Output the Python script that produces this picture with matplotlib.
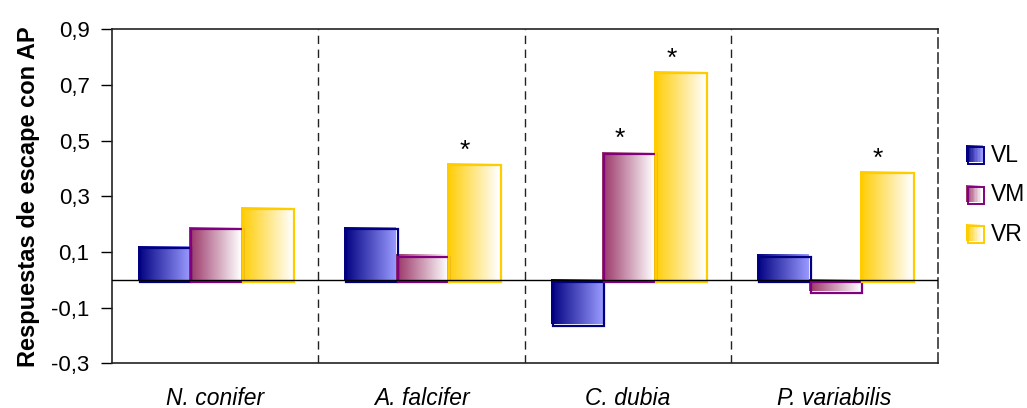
import numpy as np
import matplotlib
matplotlib.use("Agg")
import matplotlib.pyplot as plt
from matplotlib.transforms import ScaledTranslation
from matplotlib.patches import Rectangle
from matplotlib.legend_handler import HandlerBase
from matplotlib.colors import to_rgb

plt.rcParams['font.family'] = ['Liberation Sans', 'DejaVu Sans']

categories = ['N. conifer', 'A. falcifer', 'C. dubia', 'P. variabilis']
series_names = ['VL', 'VM', 'VR']
vl = [0.12, 0.19, -0.16, 0.09]
vm = [0.19, 0.09, 0.46, -0.04]
vr = [0.26, 0.42, 0.75, 0.39]
# significance stars: (series index, category index)
stars = [(2, 1), (1, 2), (2, 2), (2, 3)]
yticks = [-0.3, -0.1, 0.1, 0.3, 0.5, 0.7, 0.9]
ytick_labels = ['-0,3', '-0,1', '0,1', '0,3', '0,5', '0,7', '0,9']
ylabel = 'Respuestas de escape con AP'

series_values = [vl, vm, vr]
grad_colors = [('#000080', '#9999FF'), ('#993366', '#FFFFFF'), ('#FFCC00', '#FFFFFF')]
edge_colors = ['#000080', '#800080', '#FFCC00']

fig = plt.figure(figsize=(10.27, 4.08), dpi=100)
ax = fig.add_axes([0.1088, 0.1096, 0.913 - 0.1088, 0.928 - 0.1096])

x = np.arange(len(categories))
w = 0.25
offset = ScaledTranslation(2 / 100, -2 / 100, fig.dpi_scale_trans)


def gradient(c0, c1, n=256):
    a = np.array(to_rgb(c0))
    b = np.array(to_rgb(c1))
    t = np.linspace(0, 1, n)[:, None]
    row = a * (1 - t) + b * t
    return row[None, :, :]


bar_containers = []
for i, vals in enumerate(series_values):
    bc = ax.bar(x + (i - 1) * w, vals, w, facecolor='none',
                edgecolor=edge_colors[i], linewidth=1.6, zorder=4)
    bar_containers.append(bc)
    img = gradient(*grad_colors[i])
    for p in bc.patches:
        x0, y0 = p.get_x(), p.get_y()
        pw, ph = p.get_width(), p.get_height()
        ax.imshow(img, extent=[x0, x0 + pw, min(y0, y0 + ph), max(y0, y0 + ph)],
                  aspect='auto', zorder=3, interpolation='bilinear')
        p.set_transform(ax.transData + offset)

for si, ci in stars:
    v = series_values[si][ci]
    ax.annotate('*', xy=(x[ci] + (si - 1) * w - 0.04, v), xytext=(0, 9),
                textcoords='offset points', ha='center', va='center',
                fontsize=19, zorder=6)

ax.set_xlim(-0.5, len(categories) - 0.5)
ax.set_ylim(-0.3, 0.9)
ax.axhline(0, color='black', linewidth=1.0, zorder=5)
for b in np.arange(0.5, len(categories) - 0.5, 1.0):
    ax.axvline(b, color='#222222', linewidth=1.0, linestyle=(0, (6, 4)), zorder=1)

ax.set_yticks(yticks)
ax.set_yticklabels(ytick_labels, fontsize=16)
ax.tick_params(axis='y', direction='out', length=8, width=1.0, pad=8)
ax.set_xticks(x)
ax.set_xticklabels(categories, fontsize=16.5, fontstyle='italic')
ax.tick_params(axis='x', length=0, pad=17)
ax.set_ylabel(ylabel, fontsize=17, fontweight='bold', labelpad=8)

for s in ['left', 'bottom', 'top']:
    ax.spines[s].set_linewidth(1.2)
    ax.spines[s].set_color('#222222')
ax.spines['right'].set_linestyle((0, (6, 3)))
ax.spines['right'].set_linewidth(1.2)
ax.spines['right'].set_color('#333333')


class GradHandler(HandlerBase):
    def __init__(self, c0, c1, ec):
        super().__init__()
        self.c0, self.c1, self.ec = c0, c1, ec

    def create_artists(self, legend, orig_handle, xdescent, ydescent, width,
                       height, fontsize, trans):
        arts = []
        n = 12
        s = min(width, height)
        x0 = -xdescent + (width - s) / 2
        y0 = -ydescent + (height - s) / 2
        a = np.array(to_rgb(self.c0))
        b = np.array(to_rgb(self.c1))
        for k in range(n):
            t = k / (n - 1)
            c = a * (1 - t) + b * t
            arts.append(Rectangle((x0 + k * s / n, y0), s / n + 0.3, s,
                                  facecolor=c, edgecolor='none', transform=trans))
        arts.append(Rectangle((x0 + 1.5, y0 - 1.5), s, s, facecolor='none',
                              edgecolor=self.ec, linewidth=1.4, transform=trans))
        return arts


handles = [bc.patches[0] for bc in bar_containers]
handler_map = {h: GradHandler(grad_colors[i][0], grad_colors[i][1], edge_colors[i])
               for i, h in enumerate(handles)}
fig.legend(handles, series_names, handler_map=handler_map,
           loc='center left', bbox_to_anchor=(0.940, 0.523), frameon=False,
           fontsize=16.5, handlelength=0.75, handleheight=0.75, handletextpad=0.35,
           labelspacing=0.72, borderpad=0, borderaxespad=0)

fig.savefig('out.png', dpi=100)
